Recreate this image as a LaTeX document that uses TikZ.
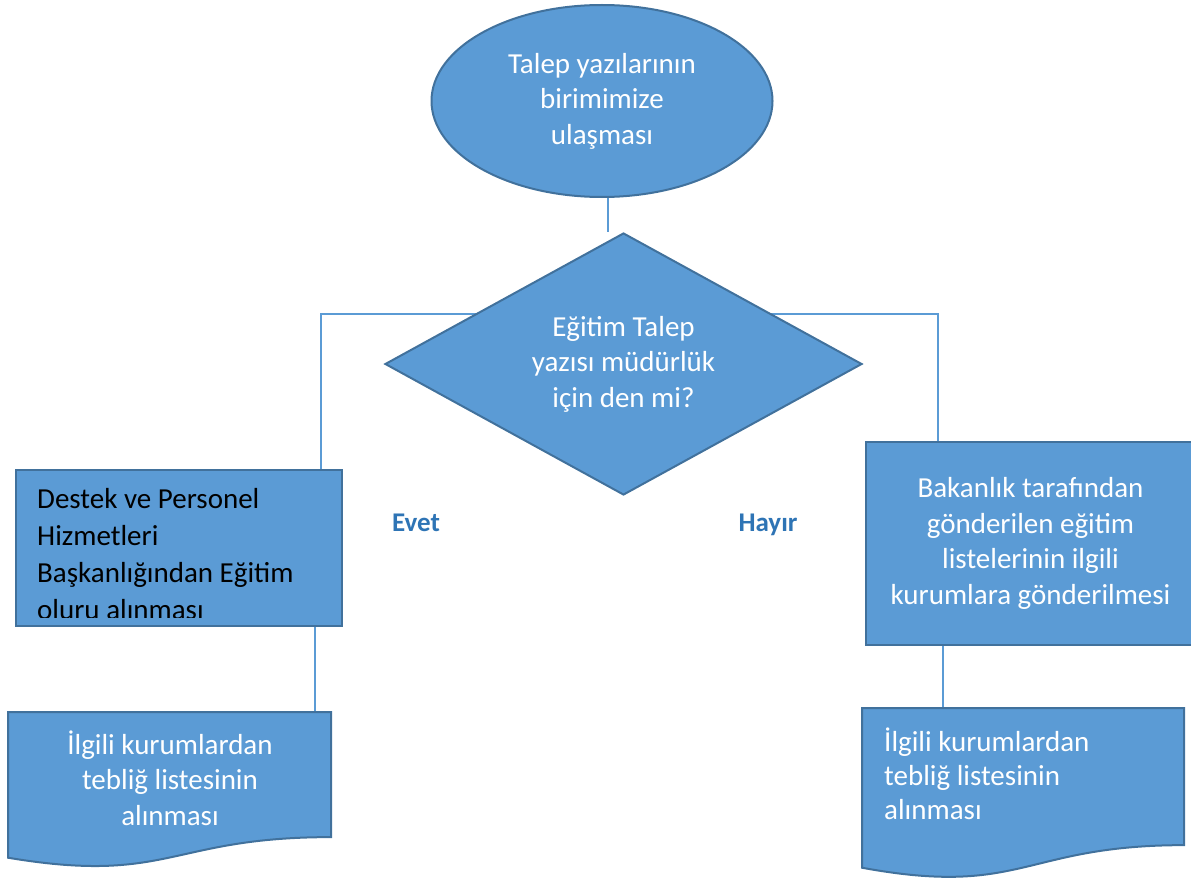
\documentclass[tikz,border=0pt]{standalone}
\usepackage{fontspec}
\setmainfont{Carlito}
\usetikzlibrary{shapes.geometric,calc}
\pgfdeclarelayer{background}
\pgfsetlayers{background,main}
\definecolor{boxfill}{HTML}{5B9BD5}
\definecolor{boxline}{HTML}{41719C}
\definecolor{linkcol}{HTML}{5B9BD5}
\definecolor{labelcol}{HTML}{2E74B5}

% document symbol with a wavy lower edge, drawn inside the frame of an empty node
\newcommand{\docoutline}[1]{%
  \draw[docstyle] (#1.north west) -- (#1.north east)
    -- ($(#1.north east)!0.802!(#1.south east)$)
    .. controls ($(#1.north)!0.802!(#1.south)$) and ($(#1.north)!1.1075!(#1.south)$)
    .. ($(#1.north west)!0.934!(#1.south west)$) -- cycle;}

\begin{document}
\begin{tikzpicture}[x=1pt,y=-1pt,
  shapebox/.style={fill=boxfill,draw=boxline,line width=2pt,inner sep=0pt},
  docstyle/.style={fill=boxfill,draw=boxline,line width=2pt},
  frame/.style={inner sep=0pt,outer sep=0pt,anchor=north west},
  body/.style={font=\fontsize{29}{35.5}\selectfont},
  whitetext/.style={body,text=white},
  link/.style={draw=linkcol,line width=1.3pt},
  answer/.style={font=\fontsize{27}{32}\selectfont\bfseries,text=labelcol,anchor=base}]

\useasboundingbox (0,0) rectangle (1191,880);
\clip (0,0) rectangle (1191,880);

% start
\node[shapebox,ellipse,minimum width=341pt,minimum height=192pt,
      whitetext,align=center] (ell) at (602,101)
  {Talep yazılarının\\birimimize\\ulaşması};

% decision
\node[shapebox,diamond,aspect=1.82,minimum width=477pt,minimum height=262pt,
      whitetext,align=center] (dia) at (623.5,364)
  {Eğitim Talep\\yazısı müdürlük\\için den mi?};

% left branch box (its text runs past the lower edge and is cut off)
\node[shapebox,rectangle,minimum width=326pt,minimum height=156pt,
      anchor=north west] (lbox) at (15,469) {};
\begin{scope}
  \clip (lbox.north west) rectangle ($(lbox.south east)+(0,-10)$);
  % base anchor sits on the last line
  \node[font=\fontsize{29}{37}\selectfont,align=left,inner sep=0pt,anchor=base west]
    (lboxtext) at (37,619)
    {Destek ve Personel\\Hizmetleri\\Başkanlığından Eğitim\\oluru alınması};
\end{scope}

% right branch box
\node[shapebox,rectangle,minimum width=329pt,minimum height=203pt,
      anchor=north west,whitetext,align=center] (rbox) at (865,441)
  {Bakanlık tarafından\\gönderilen eğitim\\listelerinin ilgili\\kurumlara gönderilmesi};

% documents
\node[frame,minimum width=323pt,minimum height=156pt] (ldoc) at (8,712) {};
\docoutline{ldoc}
\node[whitetext,align=center,inner sep=0pt] (ldoctext) at (170,778)
  {İlgili kurumlardan\\tebliğ listesinin\\alınması};

\node[frame,minimum width=322pt,minimum height=171pt] (rdoc) at (862,708) {};
\docoutline{rdoc}
\node[font=\fontsize{29}{34}\selectfont,text=white,align=left,inner sep=0pt,
      anchor=base west] (rdoctext) at (884,819)
  {İlgili kurumlardan\\tebliğ listesinin\\alınması};

% answers
\node[answer] (evet) at (416,531) {Evet};
\node[answer] (hayir) at (768,531) {Hayır};

% connectors
\coordinate (edrop) at ($(ell.south)+(6,0)$);
\coordinate (lturn) at (321,314);
\coordinate (rturn) at (938,314);
\coordinate (ldrop) at (315,600);
\coordinate (rdrop) at (943,600);
\begin{pgfonlayer}{background}
  \draw[link] (edrop) -- (edrop |- dia.north);
  \draw[link] (dia.center |- lturn) -- (lturn) -- (lturn |- lbox.north);
  \draw[link] (dia.center |- rturn) -- (rturn) -- (rturn |- rbox.north);
  \draw[link] (ldrop |- lbox.south) -- (ldrop |- ldoc.north);
  \draw[link] (rdrop |- rbox.south) -- (rdrop |- rdoc.north);
\end{pgfonlayer}
\end{tikzpicture}
\end{document}
